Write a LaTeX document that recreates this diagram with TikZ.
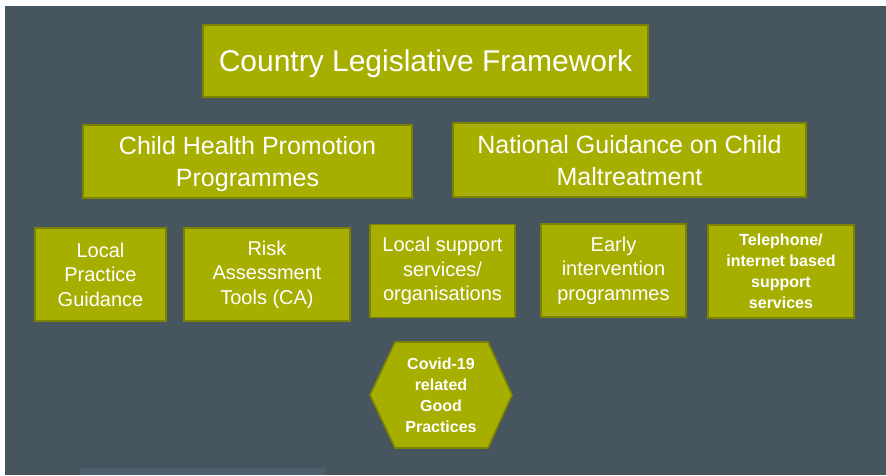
\documentclass[tikz,border=0pt]{standalone}
\usepackage{fontspec}
\setmainfont{Liberation Sans}
\usepackage{tikz}
\usetikzlibrary{positioning,calc}
\definecolor{slate}{HTML}{47555F}
\definecolor{slatelight}{HTML}{4E5E6B}
\definecolor{olivefill}{HTML}{A6AE00}
\definecolor{olivedraw}{HTML}{7C8300}

\begin{document}
\begin{tikzpicture}[x=1pt, y=-1pt, line width=1.6pt,
  main box/.style={rectangle,draw=olivedraw,fill=olivefill,text=white,align=center,inner sep=0pt},
  big text/.style={font=\fontsize{30}{36}\selectfont,text depth=0pt},
  mid text/.style={font=\fontsize{25}{32}\selectfont,text depth=0pt},
  small text/.style={font=\fontsize{20}{24.5}\selectfont},
  tiny text/.style={font=\bfseries\fontsize{16}{21}\selectfont}]
\useasboundingbox (0,0) rectangle (886,475);
\fill[white] (0,0) rectangle (886,475);
\fill[slate] (5,6) rectangle (886,475);
\fill[slatelight] (80,468) rectangle (325,475);
\begin{scope}
\node[main box,big text,minimum width=445,minimum height=72] (law) at (425.5,61) {Country Legislative Framework};
\node[main box,mid text,minimum width=329,minimum height=73] (chp) at (247.5,161.5) {Child Health Promotion\\Programmes};
\node[main box,mid text,minimum width=353,minimum height=74] (ngc) at (629.5,160) {National Guidance on Child\\Maltreatment};
\end{scope}
\begin{scope}[small text,minimum height=93]
\node[main box,minimum width=131] (b1) at (100.5,274.5) {Local\\Practice\\Guidance};
\node[main box,minimum width=166] (b2) at (267,274.5) {Risk\\Assessment\\Tools (CA)};
\node[main box,minimum width=145] (b3) at (442.5,271) {Local support\\services/\\organisations};
\node[main box,minimum width=145] (b4) at (613.5,270.5) {Early\\intervention\\programmes};
\node[main box,tiny text,minimum width=146] (b5) at (781,271.5) {Telephone/\\internet based\\support\\services};
\end{scope}
%hexagon
\coordinate (hc) at (441,395);
\draw[draw=olivedraw,fill=olivefill] ($(hc)+(-71,0)$) -- ($(hc)+(-46,-53)$) -- ($(hc)+(47,-53)$) -- ($(hc)+(71,0)$) -- ($(hc)+(47,53)$) -- ($(hc)+(-46,53)$) -- cycle;
\node[text=white,align=center,tiny text] (hex) at (hc) {Covid-19\\related\\Good\\Practices};
\end{tikzpicture}
\end{document}
